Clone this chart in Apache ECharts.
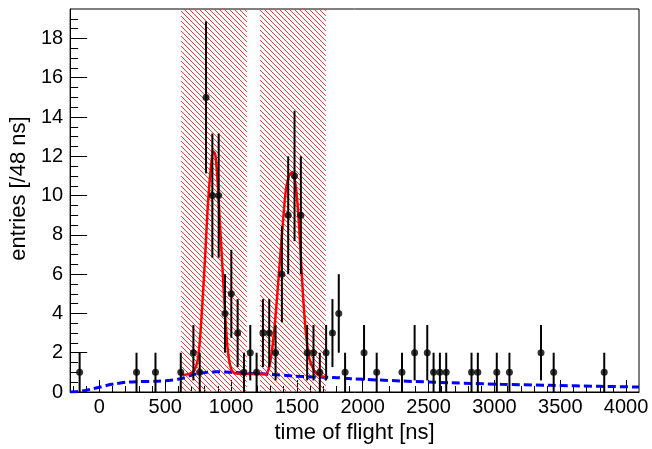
<!DOCTYPE html>
<html>
<head>
<meta charset="utf-8">
<script src="https://cdn.jsdelivr.net/npm/echarts@6/dist/echarts.min.js"></script>
<style>
  html, body { margin: 0; padding: 0; background: #fff; }
  #chart { width: 652px; height: 449px; }
</style>
</head>
<body>
<div id="chart"></div>
<script>
// measured bins (48 ns wide), only non-empty bins
const binTimes = [-150, 282, 426, 618, 714, 762, 810, 858, 906, 954, 1002, 1050, 1098, 1146, 1194,
  1242, 1290, 1338, 1386, 1434, 1482, 1530, 1578, 1626, 1674, 1722, 1770, 1818, 1866,
  2010, 2106, 2298, 2394, 2490, 2538, 2586, 2634, 2826, 2874, 3018, 3114, 3354, 3450, 3834];
const counts = [1, 1, 1, 1, 2, 1, 15, 10, 10, 4, 5, 3, 1, 2, 1,
  3, 3, 2, 6, 9, 11, 9, 2, 2, 1, 2, 3, 4, 1,
  2, 1, 1, 2, 2, 1, 1, 1, 1, 1, 1, 1, 2, 1, 1];
const errors = [1, 1, 1, 1, 1.41, 1, 3.87, 3.16, 3.16, 2, 2.24, 1.73, 1, 1.41, 1,
  1.73, 1.73, 1.41, 2.45, 3, 3.32, 3, 1.41, 1.41, 1, 1.41, 1.73, 2, 1,
  1.41, 1, 1, 1.41, 1.41, 1, 1, 1, 1, 1, 1, 1, 1.41, 1, 1];

// fit (signal + background)
const fitX = [620, 682, 720, 746, 763, 783, 804, 821, 841, 866, 880, 897, 915, 935, 955, 973, 991,
  1016, 1061, 1150, 1264, 1289, 1314, 1339, 1364, 1390, 1415, 1440, 1466, 1491, 1511, 1529, 1546,
  1567, 1592, 1630, 1667, 1718];
const fitY = [0.86, 0.92, 1.09, 1.6, 2.6, 4.6, 7.0, 9.2, 11.0, 12.25, 12.1, 10.8, 8.66, 6.3, 3.95, 2.27, 1.43,
  1.0, 0.93, 0.92, 0.92, 1.26, 2.27, 3.95, 6.1, 8.3, 10.2, 11.0, 11.2, 10.5, 9.0, 7.0, 4.96,
  3.1, 1.77, 1.09, 0.84, 0.76];

// background component (blue dashed)
const bkgX = [-222, -180, -120, -60, 0, 60, 120, 200, 300, 440, 540, 620, 700, 750, 820, 900, 1000,
  1150, 1300, 1480, 1620, 1780, 1910, 2290, 2670, 3050, 3420, 3800, 4098];
const bkgY = [0.0, 0.01, 0.06, 0.15, 0.24, 0.34, 0.42, 0.5, 0.53, 0.55, 0.6, 0.68, 0.86, 0.94, 1.01, 1.03, 1.0,
  0.95, 0.9, 0.81, 0.77, 0.74, 0.68, 0.56, 0.47, 0.39, 0.34, 0.29, 0.25];

// signal windows (hatched)
const windows = [[620, 1120], [1220, 1720]];

const xMajor = [0, 500, 1000, 1500, 2000, 2500, 3000, 3500, 4000];
const yMajor = [0, 2, 4, 6, 8, 10, 12, 14, 16, 18];
const X_MIN = -222, X_MAX = 4098, Y_MIN = 0, Y_MAX = 19.5;

const xMinor = [];
for (let v = -200; v <= 4000; v += 100) if (v % 500 !== 0) xMinor.push(v);
const yMinor = [];
for (let v = 0.5; v < Y_MAX; v += 0.5) if (v % 2 !== 0) yMinor.push(v);

// red hatch pattern
const HS = 5;
const hatch = document.createElement('canvas');
hatch.width = HS; hatch.height = HS;
const hctx = hatch.getContext('2d');
hctx.fillStyle = '#ff3333';
for (let i = 0; i < HS; i++) hctx.fillRect(i, i, 1, 1);

const font = 'Liberation Sans, Arial, Helvetica, sans-serif';
const chart = echarts.init(document.getElementById('chart'));

const baseX = { type: 'value', min: X_MIN, max: X_MAX, position: 'bottom', splitLine: { show: false } };
const baseY = { type: 'value', min: Y_MIN, max: Y_MAX, position: 'left', splitLine: { show: false } };

const option = {
  animation: false,
  grid: { left: 69, right: 13, top: 9, bottom: 54, show: true, borderColor: '#000', borderWidth: 1, backgroundColor: 'transparent' },
  xAxis: [
    Object.assign({}, baseX, {
      name: 'time of flight [ns]', nameLocation: 'middle', nameGap: 30,
      nameTextStyle: { fontFamily: font, fontSize: 22, color: '#000' },
      axisLine: { onZero: false, lineStyle: { color: '#000', width: 1 } },
      axisTick: { inside: true, length: 12, customValues: xMajor, lineStyle: { color: '#000' } },
      axisLabel: { customValues: xMajor, formatter: v => String(v), fontFamily: font, fontSize: 20, color: '#000', margin: 5 }
    }),
    Object.assign({}, baseX, {
      axisLine: { show: false, onZero: false },
      axisTick: { inside: true, length: 6, customValues: xMinor, lineStyle: { color: '#000' } },
      axisLabel: { show: false }
    })
  ],
  yAxis: [
    Object.assign({}, baseY, {
      name: 'entries [/48 ns]', nameLocation: 'middle', nameGap: 38,
      nameTextStyle: { fontFamily: font, fontSize: 22, color: '#000', padding: [0, 0, 0, 24] },
      axisLine: { onZero: false, lineStyle: { color: '#000', width: 1 } },
      axisTick: { inside: true, length: 17, customValues: yMajor, lineStyle: { color: '#000' } },
      axisLabel: { customValues: yMajor, formatter: v => String(v), fontFamily: font, fontSize: 20, color: '#000', margin: 7 }
    }),
    Object.assign({}, baseY, {
      axisLine: { show: false, onZero: false },
      axisTick: { inside: true, length: 8, customValues: yMinor, lineStyle: { color: '#000' } },
      axisLabel: { show: false }
    })
  ],
  series: [
    {
      // carrier for the hatched signal windows
      type: 'line', z: 1, symbol: 'none', silent: true,
      data: [[windows[0][0], 0]], lineStyle: { opacity: 0 },
      markArea: {
        silent: true,
        itemStyle: { color: { image: hatch, repeat: 'repeat' }, opacity: 1, borderWidth: 0 },
        data: windows.map(w => [{ xAxis: w[0], yAxis: Y_MIN }, { xAxis: w[1], yAxis: Y_MAX }])
      }
    },
    {
      name: 'background', type: 'line', z: 3, symbol: 'none', smooth: 0.3,
      data: bkgX.map((x, i) => [x, bkgY[i]]),
      lineStyle: { color: '#0000ff', width: 3, type: [8, 4] }
    },
    {
      name: 'fit', type: 'line', z: 4, symbol: 'none', smooth: 0.3,
      data: fitX.map((x, i) => [x, fitY[i]]),
      lineStyle: { color: '#ff0000', width: 2.5 }
    },
    {
      name: 'errors', type: 'custom', z: 5,
      data: binTimes.map((x, i) => [x, counts[i] - errors[i], counts[i] + errors[i]]),
      renderItem: function (params, api) {
        const lo = api.coord([api.value(0), Math.max(api.value(1), 0)]);
        const hi = api.coord([api.value(0), api.value(2)]);
        return {
          type: 'line',
          shape: { x1: lo[0], y1: lo[1], x2: hi[0], y2: hi[1] },
          style: { stroke: '#000', lineWidth: 2 }
        };
      }
    },
    {
      name: 'data', type: 'scatter', z: 6, symbol: 'circle', symbolSize: 7,
      data: binTimes.map((x, i) => [x, counts[i]]),
      itemStyle: { color: '#000' }
    }
  ]
};
chart.setOption(option);
</script>
</body>
</html>
